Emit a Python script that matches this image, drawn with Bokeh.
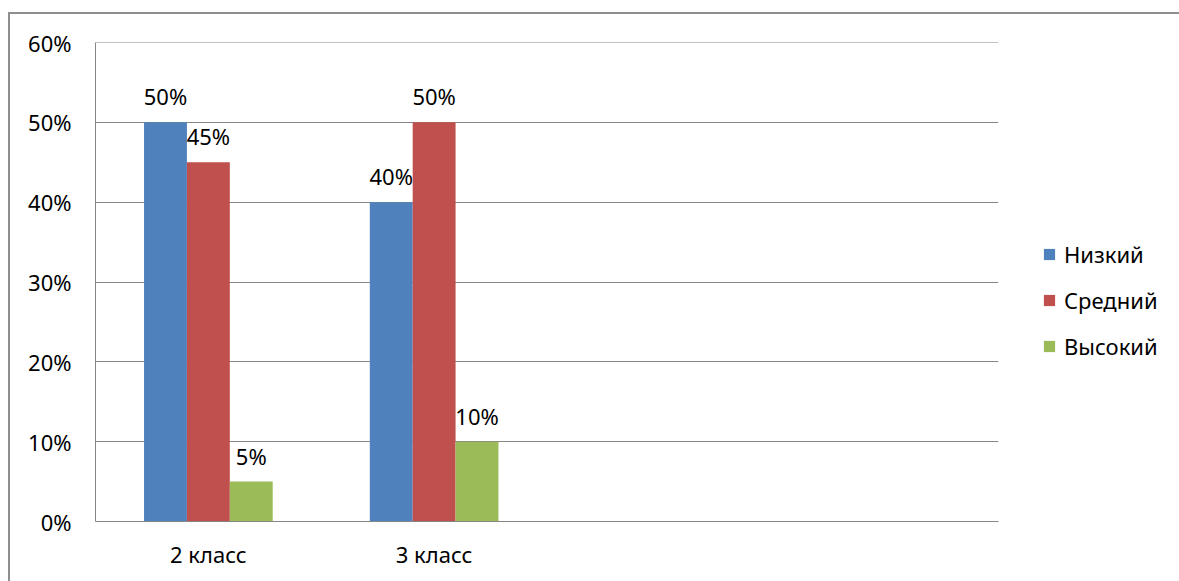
from bokeh.plotting import figure
from bokeh.models import ColumnDataSource, FactorRange, NumeralTickFormatter, Legend, LegendItem, SingleIntervalTicker
from bokeh.transform import dodge
from bokeh.core.properties import value
from bokeh.embed import file_html
from bokeh.resources import INLINE

# Chart data
categories = ["2 класс", "3 класс", " ", "  "]
series_names = ["Низкий", "Средний", "Высокий"]
low = [0.50, 0.40, None, None]
mid = [0.45, 0.50, None, None]
high = [0.05, 0.10, None, None]

colors = ["#4F81BD", "#C0504D", "#9BBB59"]
offsets = [-0.19, 0.0, 0.19]
FONT = "Noto Sans"
GRID = "#868686"

def pct(v):
    return "" if v is None else f"{round(v * 100)}%"

data = {"cat": categories}
for key, vals in (("low", low), ("mid", mid), ("high", high)):
    data[key + "_lbl"] = [pct(v) for v in vals]
    data[key] = [float("nan") if v is None else v for v in vals]
src = ColumnDataSource(data)

p = figure(
    x_range=FactorRange(*categories, range_padding=0),
    y_range=(0, 0.600001),
    frame_width=903, frame_height=479,
    min_border_left=85, min_border_right=181,
    min_border_top=28, min_border_bottom=60,
    output_backend="svg", toolbar_location=None,
    margin=(12, 0, 0, 8),
    styles={"border-left": "2px solid #8e8e8e", "border-top": "2px solid #8e8e8e"},
)
p.outline_line_color = None
p.background_fill_color = "white"
p.border_fill_color = "white"

items = []
for key, name, col, off in zip(("low", "mid", "high"), series_names, colors, offsets):
    r = p.vbar(x=dodge("cat", off, range=p.x_range), top=key, width=0.19,
               source=src, fill_color=col, line_color=None)
    p.text(x=dodge("cat", off, range=p.x_range), y=key, text=key + "_lbl",
           source=src, text_align="center", text_baseline="alphabetic",
           y_offset=-26, text_font=value(FONT), text_font_size="22px",
           text_color="black")
    items.append(LegendItem(label=name, renderers=[r]))

# axes
p.yaxis.ticker = SingleIntervalTicker(interval=0.1)
p.yaxis.formatter = NumeralTickFormatter(format="0%")
for ax in (p.xaxis, p.yaxis):
    ax.axis_line_color = GRID
    ax.axis_line_width = 1
    ax.major_tick_line_color = None
    ax.minor_tick_line_color = None
    ax.major_label_text_font = FONT
    ax.major_label_text_font_size = "22px"
    ax.major_label_text_color = "black"
p.yaxis.major_label_standoff = 18
p.xaxis.major_label_standoff = 11

p.xgrid.grid_line_color = None
p.ygrid.grid_line_color = GRID
p.ygrid.grid_line_width = 1

# legend in the right-hand panel
legend = Legend(items=items, location=(44, 160), orientation="vertical",
                glyph_width=14, glyph_height=14, spacing=16, padding=0, margin=0,
                label_text_font=FONT, label_text_font_size="22px",
                label_text_color="black",
                label_standoff=8, border_line_color=None,
                background_fill_alpha=0)
p.add_layout(legend, "right")

open("out.html", "w").write(file_html(p, INLINE))
